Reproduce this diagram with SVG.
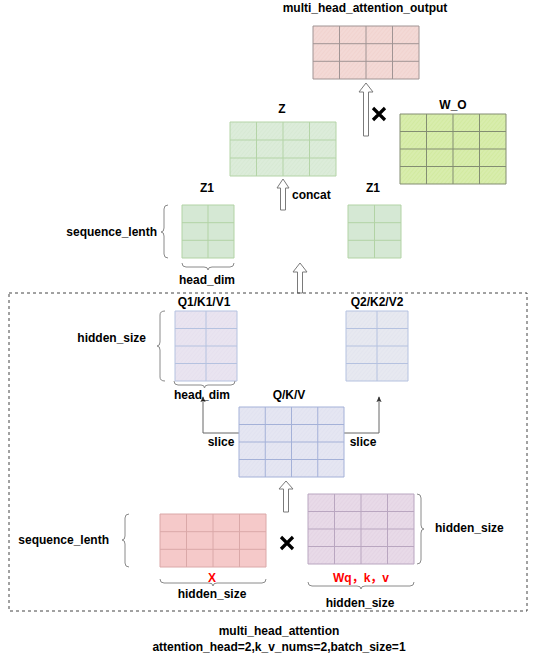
<svg xmlns="http://www.w3.org/2000/svg" width="544" height="653" viewBox="0 0 544 653">
<defs>
<pattern id="hatch" patternUnits="userSpaceOnUse" width="3" height="3" patternTransform="rotate(-50)">
<line x1="0" y1="1" x2="3" y2="1" stroke="#ffffff" stroke-width="0.8" stroke-opacity="0.35"/>
</pattern>
<marker id="arr" viewBox="0 0 8 8" refX="7" refY="4" markerWidth="6" markerHeight="6" orient="auto" markerUnits="userSpaceOnUse">
<path d="M0,0.5 L8,4 L0,7.5 L2,4 Z" fill="#333"/>
</marker>
</defs>
<style>
text{font-family:"Liberation Sans",Arial,"Noto Sans CJK SC",sans-serif;font-size:12px;font-weight:bold;fill:#000}
.c{text-anchor:middle}
.e{text-anchor:end}
.red{fill:#ff0000}
.grid{fill:none;stroke-width:1}
.hat{fill:url(#hatch);stroke:none}
.brace{fill:none;stroke:#8a8a8a;stroke-width:1}
.hollow{fill:#fff;stroke:#7a7a7a;stroke-width:1}
.conn{fill:none;stroke:#666;stroke-width:1}
.mul{stroke:#000;stroke-width:3.2;stroke-linecap:butt}
</style>

<text class="c" x="365" y="12">multi_head_attention_output</text>

<g id="output">
<rect x="313" y="26" width="106" height="53" fill="#f1d3cf"/>
<rect class="hat" x="313" y="26" width="106" height="53"/>
<path class="grid" stroke="#a09494" d="M313,26h106v53h-106z M339.5,26v53 M366,26v53 M392.5,26v53 M313,43.7h106 M313,61.3h106"/>
</g>

<g id="W_O">
<text class="c" x="453" y="109">W_O</text>
<rect x="400" y="114" width="106" height="70" fill="#d2eaa0"/>
<rect class="hat" x="400" y="114" width="106" height="70"/>
<path class="grid" stroke="#838d72" d="M400,114h106v70h-106z M426.5,114v70 M453,114v70 M479.5,114v70 M400,131.5h106 M400,149h106 M400,166.5h106"/>
</g>

<g id="Z">
<text class="c" x="282" y="113">Z</text>
<rect x="230" y="122" width="106" height="54" fill="#d7e9d4"/>
<rect class="hat" x="230" y="122" width="106" height="54"/>
<path class="grid" stroke="#b4d4a7" d="M230,122h106v54h-106z M256.5,122v54 M283,122v54 M309.5,122v54 M230,140h106 M230,158h106"/>
</g>

<g id="Z1_left">
<text class="c" x="207" y="192">Z1</text>
<rect x="182" y="205" width="52" height="53" fill="#d5e8d4"/>
<path class="grid" stroke="#b2d3a5" d="M182,205h52v53h-52z M208,205v53 M182,222.7h52 M182,240.3h52"/>
<text class="e" x="157" y="236">sequence_lenth</text>
<path class="brace" d="M168,205 Q164,205 164,209 L164,228 Q164,232 161,232 Q164,232 164,236 L164,254 Q164,258 168,258"/>
<path class="brace" d="M182,263 Q182,267 186,267 L204,267 Q208,267 208,270 Q208,267 212,267 L230,267 Q234,267 234,263"/>
<text class="c" x="207" y="284">head_dim</text>
</g>

<g id="Z1_right">
<text class="c" x="373" y="192">Z1</text>
<rect x="348" y="205" width="53" height="53" fill="#d5e8d4"/>
<path class="grid" stroke="#b2d3a5" d="M348,205h53v53h-53z M374.5,205v53 M348,222.7h53 M348,240.3h53"/>
</g>

<g id="connectors">
<polygon class="hollow" points="366,83 373,92 368.5,92 368.5,136 363.5,136 363.5,92 359,92"/>
<polygon class="hollow" points="283,179 289,188 285.5,188 285.5,210 280.5,210 280.5,188 277,188"/>
<text x="292" y="199">concat</text>
<polygon class="hollow" points="300,263 307,272 302.5,272 302.5,293 297.5,293 297.5,272 293,272"/>
<polygon class="hollow" points="286,481 293,489 288.5,489 288.5,512 283.5,512 283.5,489 279,489"/>
<path class="conn" d="M239,433 L203,433 L203,397" marker-end="url(#arr)"/>
<path class="conn" d="M344,433 L379,433 L379,397" marker-end="url(#arr)"/>
<text class="c" x="221" y="446">slice</text>
<text class="c" x="363" y="446">slice</text>
<path class="mul" d="M373,108 L385,120 M385,108 L373,120"/>
<path class="mul" d="M281,537 L293,549 M293,537 L281,549"/>
</g>

<rect id="mha_box" x="9" y="293" width="518" height="318" fill="none" stroke="#444" stroke-width="1" stroke-dasharray="3 3"/>

<g id="Q1K1V1">
<text class="c" x="204" y="306">Q1/K1/V1</text>
<rect x="175" y="311" width="62" height="70" fill="#e6e0ee"/>
<rect class="hat" x="175" y="311" width="62" height="70"/>
<path class="grid" stroke="#b5c2e0" d="M175,311h62v70h-62z M206,311v70 M175,328.5h62 M175,346h62 M175,363.5h62"/>
<text class="e" x="146" y="342">hidden_size</text>
<path class="brace" d="M165,311 Q160,311 160,315 L160,342 Q160,346 157,346 Q160,346 160,350 L160,377 Q160,381 165,381"/>
<path class="brace" d="M174,381 Q174,385 178,385 L201,385 Q204.5,385 204.5,388 Q204.5,385 208,385 L231,385 Q235,385 235,381"/>
<text class="c" x="202" y="399">head_dim</text>
</g>

<g id="Q2K2V2">
<text class="c" x="377" y="306">Q2/K2/V2</text>
<rect x="346" y="311" width="62" height="70" fill="#e3e5ee"/>
<rect class="hat" x="346" y="311" width="62" height="70"/>
<path class="grid" stroke="#b5c2e0" d="M346,311h62v70h-62z M377,311v70 M346,328.5h62 M346,346h62 M346,363.5h62"/>
</g>

<g id="QKV">
<text class="c" x="289" y="399">Q/K/V</text>
<rect x="239" y="407" width="105" height="70" fill="#e1e2f0"/>
<rect class="hat" x="239" y="407" width="105" height="70"/>
<path class="grid" stroke="#a4b1d8" d="M239,407h105v70h-105z M265.25,407v70 M291.5,407v70 M317.75,407v70 M239,424.5h105 M239,442h105 M239,459.5h105"/>
</g>

<g id="X">
<rect x="160" y="514" width="106" height="53" fill="#f5c9c9"/>
<path class="grid" stroke="#daa8a8" d="M160,514h106v53h-106z M186.5,514v53 M213,514v53 M239.5,514v53 M160,531.7h106 M160,549.3h106"/>
<text class="e" x="109" y="544">sequence_lenth</text>
<path class="brace" d="M129,514 Q125,514 125,518 L125,536 Q125,540 122,540 Q125,540 125,544 L125,563 Q125,567 129,567"/>
<text class="c red" x="212" y="582">X</text>
<path class="brace" d="M160,579 Q160,583 164,583 L209,583 Q213,583 213,586 Q213,583 217,583 L262,583 Q266,583 266,579"/>
<text class="c" x="212" y="598">hidden_size</text>
</g>

<g id="Wqkv">
<rect x="308" y="494" width="106" height="70" fill="#e4d4e4"/>
<rect class="hat" x="308" y="494" width="106" height="70"/>
<path class="grid" stroke="#b9a6c0" d="M308,494h106v70h-106z M334.5,494v70 M361,494v70 M387.5,494v70 M308,511.5h106 M308,529h106 M308,546.5h106"/>
<path class="brace" d="M417,494 Q421,494 421,498 L421,525 Q421,529 424,529 Q421,529 421,533 L421,560 Q421,564 417,564"/>
<text x="435" y="532">hidden_size</text>
<text class="c red" x="361" y="582">Wq，k，v</text>
<path class="brace" d="M308,582 Q308,586 312,586 L357,586 Q361,586 361,589 Q361,586 365,586 L410,586 Q414,586 414,582"/>
<text class="c" x="360" y="607">hidden_size</text>
</g>

<text class="c" x="279" y="635">multi_head_attention</text>
<text class="c" x="279" y="651">attention_head=2,k_v_nums=2,batch_size=1</text>
</svg>
